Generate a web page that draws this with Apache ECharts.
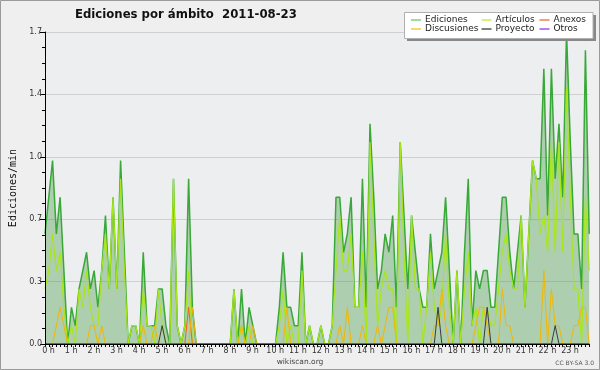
<!DOCTYPE html>
<html><head><meta charset="utf-8">
<script src="https://cdn.jsdelivr.net/npm/echarts/dist/echarts.min.js"></script>
<style>html,body{margin:0;padding:0;background:#efefef}#c{width:600px;height:370px}</style>
</head><body><div id="c"></div><script>
// ---- data (10-minute bins, value = edits per minute) ----
const chartTitle = 'Ediciones por ámbito  2011-08-23';
const yAxisName = 'Ediciones/min';
const binMinutes = 10;
const hourLabels = ['0 h','1 h','2 h','3 h','4 h','5 h','6 h','7 h','8 h','9 h','10 h','11 h','12 h','13 h','14 h','15 h','16 h','17 h','18 h','19 h','20 h','21 h','22 h','23 h'];
const yTicks = [0, 0.34, 0.68, 1.02, 1.36, 1.7];

const ediciones = [
 0.6,0.8,1.0,0.6,0.8,0.4, 0,0.2,0.1,0.3,0.4,0.5, 0.3,0.4,0.2,0.4,0.7,0.3, 0.8,0.3,1.0,0.5,0,0.1,
 0.1,0,0.5,0.1,0.1,0.1, 0.3,0.3,0.1,0,0.9,0.1, 0,0.1,0.9,0.2,0,0, 0,0,0,0,0,0,
 0,0,0.3,0,0.3,0, 0.2,0.1,0,0,0,0, 0,0,0.2,0.5,0.2,0.2, 0.1,0.1,0.5,0,0.1,0,
 0,0.1,0,0,0.1,0.8, 0.8,0.5,0.6,0.8,0.2,0.2, 0.9,0.2,1.2,0.8,0.3,0.4, 0.6,0.5,0.7,0.2,1.1,0.7,
 0.3,0.7,0.5,0.3,0.2,0.2, 0.6,0.3,0.4,0.5,0.8,0.4, 0,0.4,0,0.5,0.9,0.1, 0.4,0.3,0.4,0.4,0.2,0.2,
 0.5,0.8,0.8,0.5,0.3,0.5, 0.7,0.2,0.6,1.0,0.9,0.9, 1.5,0.7,1.5,0.9,1.2,0.8, 1.7,1.1,0.6,0.6,0.3,1.6,
 0.6
];
const articulos = [
 0.3,0.4,0.6,0.4,0.5,0.2, 0,0.1,0,0.3,0.2,0.4, 0.2,0.1,0.1,0.4,0.6,0.3, 0.8,0.3,0.9,0.4,0,0.1,
 0.1,0,0.3,0.1,0.1,0, 0.3,0.1,0,0,0.9,0.1, 0,0.1,0.4,0,0,0, 0,0,0,0,0,0,
 0,0,0.3,0,0.1,0, 0.1,0,0,0,0,0, 0,0,0.1,0.3,0,0.1, 0,0,0.4,0,0.1,0,
 0,0.1,0,0,0.1,0.4, 0.7,0.4,0.4,0.6,0.2,0.2, 0.5,0,1.1,0.6,0.1,0.3, 0.4,0.3,0.3,0,1.1,0.5,
 0,0.7,0.3,0.3,0,0.2, 0.5,0.2,0.1,0.2,0.6,0.2, 0,0.4,0,0.3,0.5,0.1, 0.2,0,0.2,0.2,0.1,0.1,
 0.3,0.5,0.6,0.4,0.3,0.3, 0.7,0.2,0.6,1.0,0.9,0.6, 0.7,0.5,1.1,0.5,1.1,0.5, 1.4,0.8,0.3,0.3,0,0.8,
 0.4
];
const anexos = [
 0,0,0,0,0,0, 0,0,0,0,0,0, 0,0,0,0,0,0, 0,0,0,0,0,0,
 0,0,0,0,0,0, 0,0,0,0,0,0, 0,0,0.2,0,0,0, 0,0,0,0,0,0,
 0,0,0,0,0,0, 0,0,0,0,0,0, 0,0,0,0,0,0, 0,0,0,0,0,0,
 0,0,0,0,0,0, 0,0,0,0,0,0, 0,0,0,0,0,0, 0,0,0,0,0,0,
 0,0,0,0,0,0, 0,0,0,0,0,0, 0,0,0,0,0,0, 0,0,0,0,0,0,
 0,0,0,0,0,0, 0,0,0,0,0,0, 0,0,0,0,0,0, 0,0,0,0,0,0,
 0
];
const discusiones = [
 0,0,0,0.1,0.2,0.1, 0,0,0,0,0,0, 0.1,0.1,0,0.1,0,0, 0,0,0,0,0,0,
 0,0,0.1,0,0,0.1, 0,0,0,0,0,0, 0,0,0,0.2,0,0, 0,0,0,0,0,0,
 0,0,0,0,0.1,0, 0,0.1,0,0,0,0, 0,0,0,0,0.2,0, 0,0,0,0,0,0,
 0,0,0,0,0,0, 0.1,0,0.2,0,0,0, 0.1,0,0,0,0.1,0, 0.1,0.2,0.2,0,0,0,
 0,0,0,0,0,0, 0,0.1,0.1,0.3,0.1,0, 0,0,0,0,0,0, 0.1,0.2,0.2,0.1,0,0,
 0,0.3,0.1,0.1,0,0, 0,0,0,0,0,0, 0.4,0,0.3,0.1,0.1,0, 0,0,0.1,0.1,0.2,0.2,
 0
];
const proyecto = [
 0,0,0,0,0,0, 0,0,0,0,0,0, 0,0,0,0,0,0, 0,0,0,0,0,0,
 0,0,0,0,0,0, 0,0.1,0,0,0,0, 0,0,0,0,0,0, 0,0,0,0,0,0,
 0,0,0,0,0,0, 0,0,0,0,0,0, 0,0,0,0,0,0, 0,0,0,0,0,0,
 0,0,0,0,0,0, 0,0,0,0,0,0, 0,0,0,0,0,0, 0,0,0,0,0,0,
 0,0,0,0,0,0, 0,0,0.2,0,0,0, 0,0,0,0,0,0, 0,0,0,0.2,0,0,
 0,0,0,0,0,0, 0,0,0,0,0,0, 0,0,0,0.1,0,0, 0,0,0,0,0,0,
 0
];
const otros = [
 0,0,0,0,0,0, 0,0,0,0,0,0, 0,0,0,0,0,0, 0,0,0,0,0,0,
 0,0,0,0,0,0, 0,0,0,0,0,0, 0,0,0,0,0,0, 0,0,0,0,0,0,
 0,0,0,0,0,0, 0,0,0,0,0,0, 0,0,0,0,0,0, 0,0,0,0,0,0,
 0,0,0,0,0,0, 0,0,0,0,0,0, 0,0,0,0,0,0, 0,0,0,0,0,0,
 0,0,0,0,0,0, 0,0,0,0,0,0, 0,0,0,0,0,0, 0,0,0,0,0,0,
 0,0,0,0,0,0, 0,0,0,0,0,0, 0,0,0,0,0,0, 0,0,0,0,0,0,
 0
];
const seriesNames = ['Ediciones','Artículos','Anexos','Discusiones','Proyecto','Otros'];

// ---- styles ----
const lineColors = ['#38a838','#a8e61a','#ff5a1f','#f2b600','#3a3a3a','#8a2be2'];
const legendColors = ['#80d080','#c6ee50','#f08050','#f2cc40','#555555','#a050f0'];
const lineWidths = [1.5,1.2,1,1,1,1];
const FONT = 'DejaVu Sans';

const toXY = arr => arr.map((v, i) => [i * binMinutes, v]);
const allData = [ediciones, articulos, anexos, discusiones, proyecto, otros];

const series = allData.map((arr, k) => ({
  type: 'line', name: seriesNames[k], data: toXY(arr),
  showSymbol: false, symbol: 'none', animation: false,
  lineStyle: { color: lineColors[k], width: lineWidths[k] },
  itemStyle: { color: lineColors[k] },
  areaStyle: k === 0 ? { color: 'rgba(56,150,56,0.5)' } : undefined,
  z: 2 + k
}));

function legendCol(names, left) {
  return {
    orient: 'vertical', left: left, top: 15.5, itemGap: 0, z: 50,
    itemWidth: 10, itemHeight: 1.5, icon: 'rect', padding: 0,
    data: names.map(n => ({ name: n, itemStyle: { color: legendColors[seriesNames.indexOf(n)] } })),
    textStyle: { fontFamily: FONT, fontSize: 9, color: '#222', lineHeight: 9, padding: [0,0,0,-1] },
    selectedMode: false
  };
}

const chart = echarts.init(document.getElementById('c'), null, { renderer: 'canvas' });
chart.setOption({
  backgroundColor: '#efefef',
  animation: false,
  textStyle: { fontFamily: FONT },
  grid: { left: 42, right: 10.8, top: 32, bottom: 26, show: true, backgroundColor: '#eceef0', borderWidth: 0, containLabel: false },
  title: { text: chartTitle, left: 75, top: 9, padding: 0,
    textStyle: { fontFamily: FONT, fontWeight: 'bold', fontSize: 11.7, color: '#111' } },
  legend: [
    legendCol(['Ediciones','Discusiones'], 411),
    legendCol(['Artículos','Proyecto'], 481.5),
    legendCol(['Anexos','Otros'], 539.5)
  ],
  xAxis: {
    type: 'value', min: 0, max: 24 * 60, interval: 60, z: 10,
    axisLine: { show: true, onZero: false, lineStyle: { color: '#000', width: 1 } },
    axisTick: { show: true, length: 3, lineStyle: { color: '#000' } },
    minorTick: { show: true, splitNumber: 60 / binMinutes, length: 3, lineStyle: { color: '#000' } },
    splitLine: { show: false },
    axisLabel: { margin: 3, padding: [0,0,0,7], fontFamily: FONT, fontSize: 8, color: '#333',
      showMaxLabel: true, hideOverlap: false,
      formatter: v => { const h = Math.round(v / 60); return h < hourLabels.length ? hourLabels[h] : ''; } }
  },
  yAxis: [
    {
      type: 'value', min: yTicks[0], max: yTicks[yTicks.length - 1], interval: yTicks[1] - yTicks[0], z: 10,
      position: 'left',
      name: yAxisName, nameLocation: 'middle', nameRotate: 90, nameGap: 27,
      nameTextStyle: { fontFamily: 'DejaVu Sans Mono', fontSize: 10, color: '#111' },
      axisLine: { show: true, lineStyle: { color: '#000', width: 1 } },
      axisTick: { show: true, length: 5, lineStyle: { color: '#000' } },
      minorTick: { show: true, splitNumber: 4, length: 3, lineStyle: { color: '#000' } },
      splitLine: { show: false },
      axisLabel: { margin: 3, fontFamily: FONT, fontSize: 8, color: '#333', showMinLabel: true, showMaxLabel: true,
        formatter: v => v.toFixed(1) }
    },
    {
      type: 'value', min: yTicks[0], max: yTicks[yTicks.length - 1], interval: yTicks[1] - yTicks[0], z: 0,
      position: 'right',
      axisLine: { show: false }, axisTick: { show: false }, axisLabel: { show: false },
      splitLine: { show: true, lineStyle: { color: '#cfcfcf', width: 1 } }
    }
  ],
  graphic: [
    { type: 'rect', shape: { x: 0.5, y: 0.5, width: 599, height: 369 }, style: { fill: 'none', stroke: '#9a9a9a', lineWidth: 1 }, z: 100 },
    { type: 'rect', shape: { x: 407, y: 15, width: 189, height: 26 }, style: { fill: '#888' }, z: 20, zlevel: 0 },
    { type: 'rect', shape: { x: 404.5, y: 12.5, width: 188.5, height: 26 }, style: { fill: '#fff', stroke: '#b0b0b0', lineWidth: 1 }, z: 21, zlevel: 0 },
    { type: 'text', x: 300, y: 362, style: { text: 'wikiscan.org', font: '7.5px "DejaVu Sans"', fill: '#444', align: 'center', verticalAlign: 'middle' }, z: 30 },
    { type: 'text', x: 594, y: 363, style: { text: 'CC BY-SA 3.0', font: '6px "DejaVu Sans"', fill: '#555', align: 'right', verticalAlign: 'middle' }, z: 30 }
  ],
  series: series
});
</script></body></html>
